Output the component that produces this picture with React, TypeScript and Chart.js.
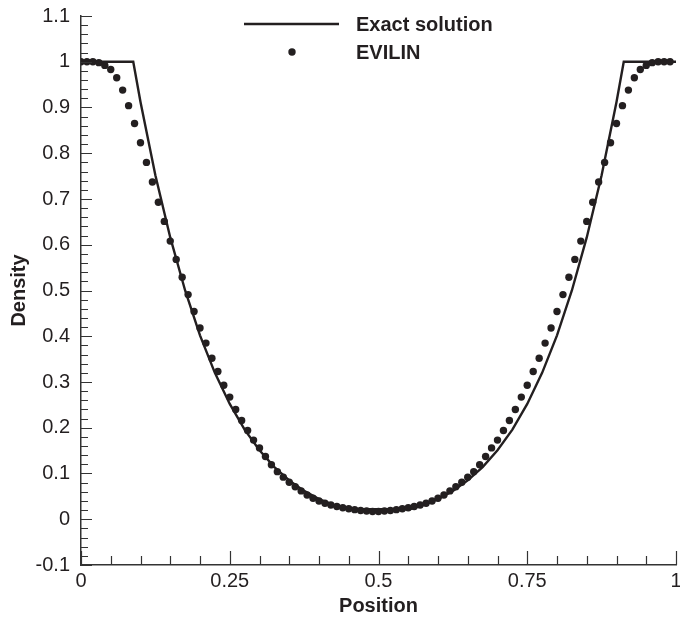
import { useEffect, useRef } from 'react';
import { Chart, registerables } from 'chart.js';

Chart.register(...registerables);

const SERIES_LABELS = ['Exact solution', 'EVILIN'];

const EXACT_X = [0, 0.0878, 0.1, 0.125, 0.15, 0.175, 0.2, 0.225, 0.25, 0.275, 0.3, 0.325, 0.35, 0.375, 0.4, 0.425, 0.4478, 0.5522, 0.575, 0.6, 0.625, 0.65, 0.675, 0.7, 0.725, 0.75, 0.775, 0.8, 0.825, 0.85, 0.875, 0.9, 0.9122, 1];
const EXACT_Y = [1, 1, 0.912, 0.752, 0.616, 0.5, 0.402, 0.32, 0.252, 0.196, 0.151, 0.114, 0.085, 0.062, 0.044, 0.031, 0.022, 0.022, 0.031, 0.044, 0.062, 0.085, 0.114, 0.151, 0.196, 0.252, 0.32, 0.402, 0.5, 0.616, 0.752, 0.912, 1, 1];

const EVILIN_X = [
  0, 0.01, 0.02, 0.03, 0.04, 0.05, 0.06, 0.07, 0.08, 0.09,
  0.1, 0.11, 0.12, 0.13, 0.14, 0.15, 0.16, 0.17, 0.18, 0.19,
  0.2, 0.21, 0.22, 0.23, 0.24, 0.25, 0.26, 0.27, 0.28, 0.29,
  0.3, 0.31, 0.32, 0.33, 0.34, 0.35, 0.36, 0.37, 0.38, 0.39,
  0.4, 0.41, 0.42, 0.43, 0.44, 0.45, 0.46, 0.47, 0.48, 0.49,
  0.5, 0.51, 0.52, 0.53, 0.54, 0.55, 0.56, 0.57, 0.58, 0.59,
  0.6, 0.61, 0.62, 0.63, 0.64, 0.65, 0.66, 0.67, 0.68, 0.69,
  0.7, 0.71, 0.72, 0.73, 0.74, 0.75, 0.76, 0.77, 0.78, 0.79,
  0.8, 0.81, 0.82, 0.83, 0.84, 0.85, 0.86, 0.87, 0.88, 0.89,
  0.9, 0.91, 0.92, 0.93, 0.94, 0.95, 0.96, 0.97, 0.98, 0.99,
];
const EVILIN_Y = [
  1.0, 1.0, 1.0, 0.998, 0.992, 0.983, 0.965, 0.938, 0.904, 0.865,
  0.823, 0.78, 0.737, 0.693, 0.651, 0.608, 0.568, 0.529, 0.491, 0.454,
  0.418, 0.385, 0.352, 0.323, 0.293, 0.267, 0.24, 0.216, 0.194, 0.173,
  0.156, 0.137, 0.119, 0.104, 0.092, 0.081, 0.071, 0.062, 0.053, 0.046,
  0.04, 0.035, 0.031, 0.028, 0.025, 0.023, 0.021, 0.019, 0.018, 0.017,
  0.017, 0.018, 0.019, 0.021, 0.023, 0.025, 0.028, 0.031, 0.035, 0.04,
  0.046, 0.053, 0.062, 0.071, 0.081, 0.092, 0.104, 0.119, 0.137, 0.156,
  0.173, 0.194, 0.216, 0.24, 0.267, 0.293, 0.323, 0.352, 0.385, 0.418,
  0.454, 0.491, 0.529, 0.568, 0.608, 0.651, 0.693, 0.737, 0.78, 0.823,
  0.865, 0.904, 0.938, 0.965, 0.983, 0.992, 0.998, 1.0, 1.0, 1.0,
];

const X_TICKS = [0, 0.25, 0.5, 0.75, 1];
const X_TICK_LABELS = ['0', '0.25', '0.5', '0.75', '1'];
const Y_TICKS = [-0.1, 0, 0.1, 0.2, 0.3, 0.4, 0.5, 0.6, 0.7, 0.8, 0.9, 1, 1.1];
const Y_TICK_LABELS = ['-0.1', '0', '0.1', '0.2', '0.3', '0.4', '0.5', '0.6', '0.7', '0.8', '0.9', '1', '1.1'];
const X_TITLE = 'Position';
const Y_TITLE = 'Density';

const INK = '#231f20';
const FONT = "'Liberation Sans', Arial, Helvetica, sans-serif";

const innerTicksPlugin = {
  id: 'innerTicks',
  afterDraw(chart: any) {
    const { ctx } = chart;
    const xs = chart.scales.x;
    const ys = chart.scales.y;
    const x0 = xs.left;
    const y0 = ys.bottom;
    ctx.save();
    ctx.strokeStyle = '#333';
    ctx.lineWidth = 1.2;
    ctx.beginPath();
    for (let i = 0; i <= 20; i++) {
      const v = xs.min + (i * (xs.max - xs.min)) / 20;
      const px = Math.round(xs.getPixelForValue(v)) + 0.5;
      const len = i % 5 === 0 ? 14 : 9;
      ctx.moveTo(px, y0);
      ctx.lineTo(px, y0 - len);
    }
    for (let i = 0; i <= 60; i++) {
      const v = ys.min + (i * (ys.max - ys.min)) / 60;
      const py = Math.round(ys.getPixelForValue(v)) + 0.5;
      const len = i % 5 === 0 ? 11 : 7;
      ctx.moveTo(x0, py);
      ctx.lineTo(x0 + len, py);
    }
    ctx.stroke();
    ctx.restore();
  },
};

const legendPlugin = {
  id: 'customLegend',
  afterDraw(chart: any) {
    const { ctx } = chart;
    const ds = chart.data.datasets;
    ctx.save();
    ctx.font = `bold 20px ${FONT}`;
    ctx.fillStyle = INK;
    ctx.textBaseline = 'middle';
    ctx.textAlign = 'left';
    ctx.strokeStyle = INK;
    ctx.lineWidth = 2.4;
    ctx.beginPath();
    ctx.moveTo(244, 24);
    ctx.lineTo(339, 24);
    ctx.stroke();
    ctx.fillText(ds[0].label, 356, 25);
    ctx.beginPath();
    ctx.arc(292, 52, 3.7, 0, Math.PI * 2);
    ctx.fill();
    ctx.fillText(ds[1].label, 356, 53);
    ctx.restore();
  },
};

export default function App() {
  const ref = useRef<HTMLCanvasElement | null>(null);

  useEffect(() => {
    const canvas = ref.current;
    if (!canvas) return;
    const exactData = EXACT_X.map((x, i) => ({ x, y: EXACT_Y[i] }));
    const evilinData = EVILIN_X.map((x, i) => ({ x, y: EVILIN_Y[i] }));

    const chart = new Chart(canvas, {
      type: 'scatter',
      data: {
        datasets: [
          {
            label: SERIES_LABELS[0],
            data: exactData,
            showLine: true,
            borderColor: INK,
            borderWidth: 2.4,
            pointRadius: 0,
            tension: 0,
            order: 1,
          },
          {
            label: SERIES_LABELS[1],
            data: evilinData,
            showLine: false,
            backgroundColor: INK,
            borderWidth: 0,
            pointRadius: 3.7,
            order: 0,
          },
        ],
      },
      options: {
        animation: false,
        responsive: false,
        devicePixelRatio: 1,
        layout: { padding: { top: 16, right: 1, left: 0, bottom: 0 } },
        plugins: {
          legend: { display: false },
          tooltip: { enabled: false },
        },
        scales: {
          x: {
            type: 'linear',
            min: 0,
            max: 1,
            grid: { display: false, drawTicks: false },
            border: { display: true, color: '#333', width: 1.5 },
            afterBuildTicks: (s: any) => {
              s.ticks = X_TICKS.map((v) => ({ value: v }));
            },
            afterFit: (s: any) => {
              s.height = 56;
              s.paddingLeft = 0;
              s.paddingRight = 0;
            },
            ticks: {
              autoSkip: false,
              maxRotation: 0,
              padding: 4,
              color: INK,
              font: { family: FONT, size: 20 },
              callback: (_v: any, i: number) => X_TICK_LABELS[i],
            },
            title: {
              display: true,
              text: X_TITLE,
              color: INK,
              font: { family: FONT, size: 20, weight: 'bold' },
              padding: { top: 0, bottom: 3 },
            },
          },
          y: {
            type: 'linear',
            min: -0.1,
            max: 1.1,
            grid: { display: false, drawTicks: false },
            border: { display: true, color: '#333', width: 1.5 },
            afterBuildTicks: (s: any) => {
              s.ticks = Y_TICKS.map((v) => ({ value: v }));
            },
            afterFit: (s: any) => {
              s.width = 81;
              s.paddingTop = 0;
              s.paddingBottom = 0;
            },
            ticks: {
              autoSkip: false,
              padding: 11,
              color: INK,
              font: { family: FONT, size: 20 },
              callback: (_v: any, i: number) => Y_TICK_LABELS[i],
            },
            title: {
              display: true,
              text: Y_TITLE,
              color: INK,
              font: { family: FONT, size: 20, weight: 'bold' },
              padding: { top: 7, bottom: 0 },
            },
          },
        },
      },
      plugins: [innerTicksPlugin, legendPlugin],
    } as any);

    return () => chart.destroy();
  }, []);

  return (
    <div style={{ position: 'absolute', left: 0, top: 0, width: 680, height: 621, background: '#fff' }}>
      <canvas ref={ref} width={680} height={621} style={{ display: 'block', width: 680, height: 621 }} />
    </div>
  );
}
